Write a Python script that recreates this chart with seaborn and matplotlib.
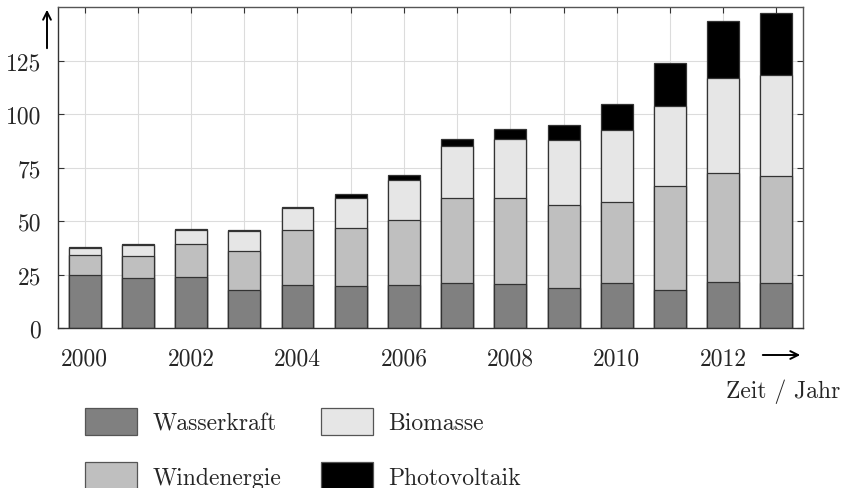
import matplotlib
matplotlib.use("Agg")
import matplotlib.pyplot as plt
import seaborn as sns
import pandas as pd
import numpy as np
from matplotlib.patches import Patch

years = list(range(2000, 2014))
wasserkraft = [24.8, 23.3, 23.7, 17.8, 20.1, 19.7, 20.1, 21.1, 20.4, 18.9, 20.9, 17.8, 21.7, 21.2]
windenergie = [9.4, 10.3, 15.6, 18.4, 25.5, 27.1, 30.6, 39.6, 40.5, 38.5, 37.9, 48.7, 50.7, 49.6]
biomasse = [3.4, 5.3, 6.6, 8.9, 10.4, 14.1, 18.4, 24.3, 27.6, 30.5, 33.9, 37.3, 44.3, 47.5]
photovoltaik = [0.1, 0.2, 0.3, 0.5, 0.6, 1.5, 2.4, 3.3, 4.7, 6.8, 12.2, 20.0, 26.9, 28.7]
series_names = ["Wasserkraft", "Windenergie", "Biomasse", "Photovoltaik"]
colors = ["#808080", "#bfbfbf", "#e6e6e6", "#000000"]
y_ticks = [0, 25, 50, 75, 100, 125]

sns.set_theme(style="white")
plt.rcParams["font.family"] = ["cmr10", "DejaVu Serif"]
plt.rcParams["axes.formatter.use_mathtext"] = True
FS = 17

df = pd.DataFrame({
    "Jahr": [str(y) for y in years],
    "Wasserkraft": wasserkraft,
    "Windenergie": windenergie,
    "Biomasse": biomasse,
    "Photovoltaik": photovoltaik,
})
cum = df[series_names].cumsum(axis=1)

fig = plt.figure(figsize=(8.42, 4.89), dpi=100)
ax = fig.add_axes([58 / 842, 1 - 329 / 489, (803 - 58) / 842, (329 - 8) / 489])

order = [str(y) for y in years]
for name, col in reversed(list(zip(series_names, colors))):
    d = pd.DataFrame({"Jahr": df["Jahr"], "v": cum[name]})
    sns.barplot(data=d, x="Jahr", y="v", order=order, color=col, saturation=1,
                width=0.6, edgecolor="#333333", linewidth=0.9, errorbar=None, ax=ax)

ax.set_axisbelow(True)
ax.grid(True, axis="both", color="#dcdcdc", lw=0.8)
ax.set_xlim(-0.5, 13.5)
ax.set_ylim(0, 150)
ax.set_xticks(range(len(years)))
ax.set_xticklabels([str(y) if y % 2 == 0 else "" for y in years], fontsize=FS)
ax.set_yticks(y_ticks)
ax.set_yticklabels([str(t) for t in y_ticks], fontsize=FS)
ax.set_xlabel("")
ax.set_ylabel("")
ax.tick_params(axis="both", direction="in", length=4, width=0.8, color="#333333",
               top=True, right=True, bottom=True, left=True)
ax.tick_params(axis="x", pad=14)
ax.tick_params(axis="y", pad=12)
for s in ax.spines.values():
    s.set_color("#555555")
    s.set_linewidth(1.0)
ax.spines["left"].set_color("#333333")
ax.spines["bottom"].set_color("#333333")

# axis arrows
fig.add_artist(matplotlib.patches.FancyArrowPatch(
    (47 / 842, 1 - 52 / 489), (47 / 842, 1 - 8 / 489), transform=fig.transFigure,
    arrowstyle="->", mutation_scale=14, lw=1.4, color="black"))
fig.add_artist(matplotlib.patches.FancyArrowPatch(
    (760 / 842, 1 - 356 / 489), (803 / 842, 1 - 356 / 489), transform=fig.transFigure,
    arrowstyle="->", mutation_scale=14, lw=1.4, color="black"))
fig.text(840 / 842, 1 - 392 / 489, "Zeit / Jahr", ha="right", va="center", fontsize=FS)

handles = [Patch(facecolor=c, edgecolor="#555555", lw=0.9) for c in colors]
fig.legend(handles, series_names, ncol=2, loc="upper left",
           bbox_to_anchor=(85 / 842, 1 - 409 / 489), frameon=False, fontsize=FS,
           borderpad=0, borderaxespad=0, handlelength=2.2, handleheight=1.4,
           handletextpad=0.65, labelspacing=1.15, columnspacing=1.7)

fig.savefig("out.png", dpi=100)
